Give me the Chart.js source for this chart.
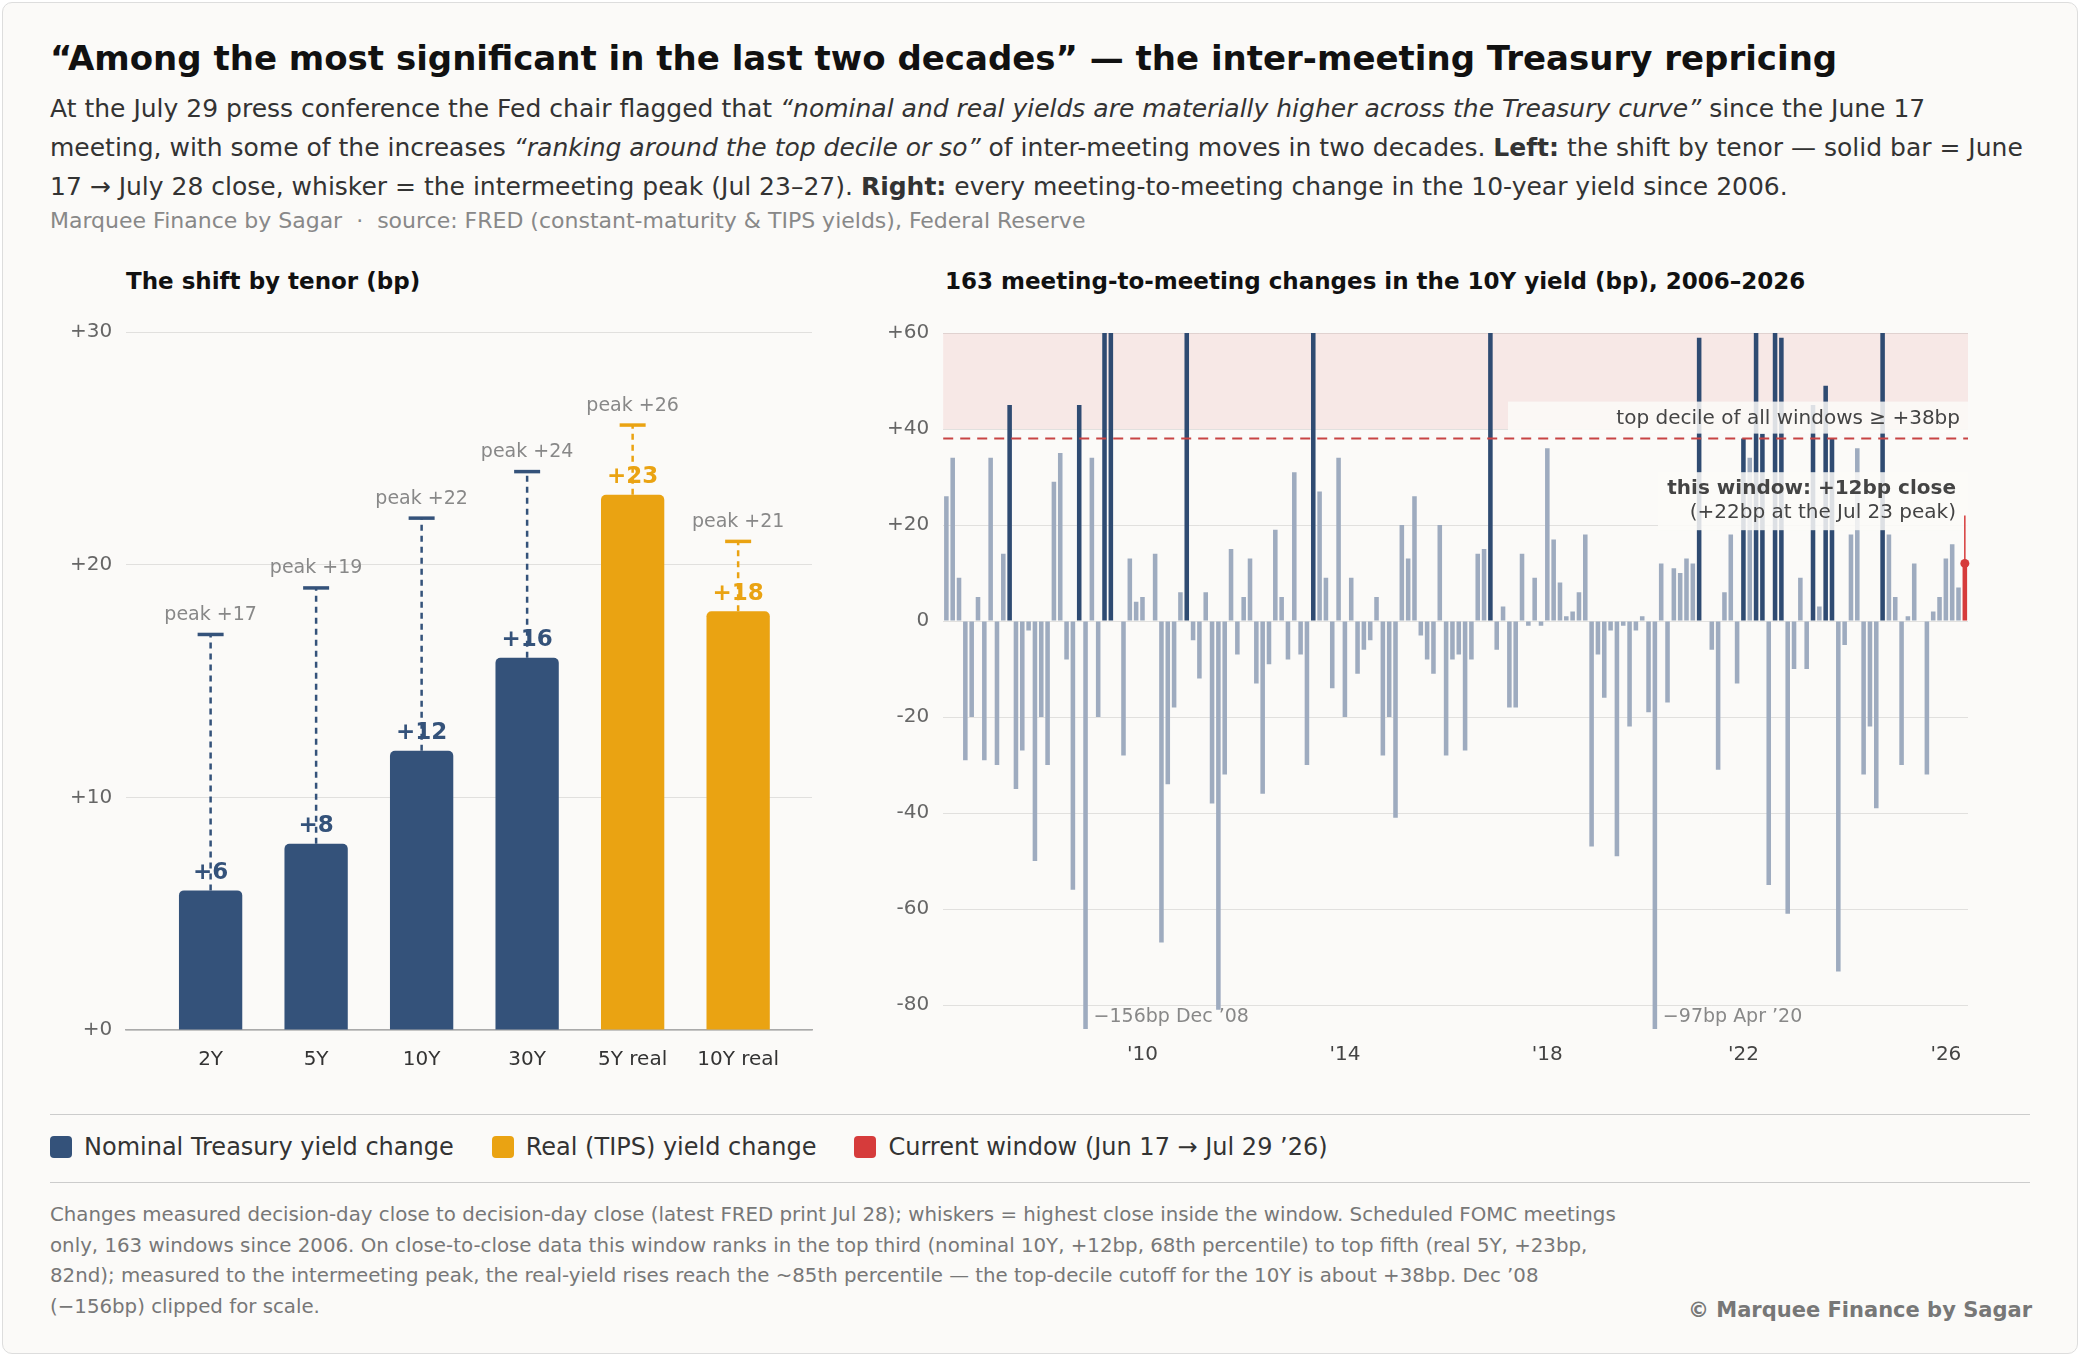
<!DOCTYPE html>
<html>
<head>
<meta charset="utf-8">
<script src="https://cdn.jsdelivr.net/npm/chart.js@4.4.1/dist/chart.umd.min.js"></script>
<style>
  html, body { margin: 0; padding: 0; background: #fff; }
  body { width: 2080px; height: 1356px; position: relative; font-family: "DejaVu Sans", sans-serif; overflow: hidden; }
  #card { position: absolute; left: 2px; top: 2px; width: 2074px; height: 1350px; background: #fbfaf8; border: 1px solid #ddd; border-radius: 10px; }
  .abs { position: absolute; }
  h1 { position: absolute; left: 50px; top: 38px; margin: 0; font-size: 34px; font-weight: bold; color: #111; }
  #sub { left: 50px; top: 89px; width: 1990px; font-size: 25px; line-height: 39px; color: #333; }
  #src { left: 50px; top: 208px; font-size: 22px; color: #888; }
  .ptitle { font-size: 23px; font-weight: bold; color: #111; }
  .rule { position: absolute; left: 50px; width: 1980px; height: 0; border-top: 1px solid #ccc; }
  #legend { left: 50px; top: 1133px; font-size: 24px; color: #333; display: flex; gap: 38px; }
  #legend span.sw { display: inline-block; width: 22px; height: 22px; border-radius: 4px; margin-right: 12px; vertical-align: -3px; }
  #foot { left: 50px; top: 1200px; width: 1575px; font-size: 19.8px; line-height: 30.5px; color: #777; }
  #copy { right: 48px; top: 1298px; font-size: 21px; font-weight: bold; color: #777; }
</style>
</head>
<body>
<div id="card"></div>
<h1>“Among the most significant in the last two decades” — the inter-meeting Treasury repricing</h1>
<div id="sub" class="abs">At the July 29 press conference the Fed chair flagged that <i>“nominal and real yields are materially higher across the Treasury curve”</i> since the June 17 meeting, with some of the increases <i>“ranking around the top decile or so”</i> of inter-meeting moves in two decades. <b>Left:</b> the shift by tenor — solid bar = June 17 → July 28 close, whisker = the intermeeting peak (Jul 23–27). <b>Right:</b> every meeting-to-meeting change in the 10-year yield since 2006.</div>
<div id="src" class="abs">Marquee Finance by Sagar &nbsp;·&nbsp; source: FRED (constant-maturity &amp; TIPS yields), Federal Reserve</div>

<div class="abs ptitle" style="left:126px;top:268px">The shift by tenor (bp)</div>
<div class="abs ptitle" style="left:945px;top:268px">163 meeting-to-meeting changes in the 10Y yield (bp), 2006–2026</div>

<div class="abs" style="left:56px;top:306px;width:774px;height:776px"><canvas id="left"></canvas></div>
<div class="abs" style="left:873px;top:307px;width:1105px;height:766px"><canvas id="right"></canvas></div>

<div class="rule" style="top:1114px"></div>
<div id="legend" class="abs">
  <div><span class="sw" style="background:#34527a"></span>Nominal Treasury yield change</div>
  <div><span class="sw" style="background:#eaa312"></span>Real (TIPS) yield change</div>
  <div><span class="sw" style="background:#d63b3b"></span>Current window (Jun 17 → Jul 29 ’26)</div>
</div>
<div class="rule" style="top:1182px"></div>
<div id="foot" class="abs">Changes measured decision-day close to decision-day close (latest FRED print Jul 28); whiskers = highest close inside the window. Scheduled FOMC meetings only, 163 windows since 2006. On close-to-close data this window ranks in the top third (nominal 10Y, +12bp, 68th percentile) to top fifth (real 5Y, +23bp, 82nd); measured to the intermeeting peak, the real-yield rises reach the ~85th percentile — the top-decile cutoff for the 10Y is about +38bp. Dec ’08 (−156bp) clipped for scale.</div>
<div id="copy" class="abs">© Marquee Finance by Sagar</div>

<script>
// ── data ──────────────────────────────────────────────
const tenors = ['2Y', '5Y', '10Y', '30Y', '5Y real', '10Y real'];
const tenorClose = [6, 8, 12, 16, 23, 18];
const tenorPeak = [17, 19, 22, 24, 26, 21];
const tenorIsReal = [false, false, false, false, true, true];
const leftTicks = [0, 10, 20, 30];

// 10Y change per scheduled FOMC window, 2006 → Jul 2026 (last = current)
const changes10y = [
  26, 34, 9, -29, -20, 5, -29, 34, -30, 14,
  45, -35, -27, -2, -50, -20, -30, 29, 35, -8,
  -56, 45, -156, 34, -20, 75, 65, 0, -28, 13,
  4, 5, 0, 14, -67, -34, -18, 6, 70, -4,
  -12, 6, -38, -81, -32, 15, -7, 5, 13, -13,
  -36, -9, 19, 5, -8, 31, -7, -30, 70, 27,
  9, -14, 34, -20, 9, -11, -6, -4, 5, -28,
  -20, -41, 20, 13, 26, -3, -8, -11, 20, -28,
  -8, -7, -27, -8, 14, 15, 62, -6, 3, -18,
  -18, 14, -1, 9, -1, 36, 17, 8, 1, 2,
  6, 18, -47, -7, -16, -2, -49, -1, -22, -2,
  1, -19, -97, 12, -17, 11, 10, 13, 12, 59,
  0, -6, -31, 6, 18, -13, 38, 34, 62, 39,
  -55, 61, 59, -61, -10, 9, -10, 45, 3, 49,
  38, -73, -5, 18, 36, -32, -22, -39, 64, 18,
  5, -30, 1, 12, 0, -32, 2, 5, 13, 16,
  7, 12
];
const currentPeak = 22;
const topDecile = 38;
const yearTicks = { 31: "'10", 63: "'14", 95: "'18", 126: "'22", 158: "'26" };
const rightTicks = [-80, -60, -40, -20, 0, 20, 40, 60];

// ── colours ───────────────────────────────────────────
const NAVY = '#34527a', GOLD = '#eaa312', RED = '#d63b3b', LIGHT = '#9eabbf', DARK = '#2f4b72';
const FONT = '"DejaVu Sans", sans-serif';
const GRID = 'rgba(0,0,0,0.1)';

Chart.defaults.font.family = FONT;
Chart.defaults.color = '#666';

const fmtSigned = v => (v > 0 ? '+' + v : v === 0 ? '0' : String(v));

// whiskers + labels for tenor chart
const tenorDecor = {
    id: 'tenorDecor',
    afterDatasetsDraw(chart) {
        const { ctx, scales: { y } } = chart;
        const meta = chart.getDatasetMeta(0);
        meta.data.forEach((bar, i) => {
            const col = tenorIsReal[i] ? GOLD : NAVY;
            const yTop = y.getPixelForValue(tenorClose[i]);
            const yPk = y.getPixelForValue(tenorPeak[i]);
            ctx.save();
            ctx.strokeStyle = col;
            ctx.lineWidth = 2.5;
            ctx.setLineDash([6, 5]);
            ctx.beginPath(); ctx.moveTo(bar.x, yTop); ctx.lineTo(bar.x, yPk); ctx.stroke();
            ctx.setLineDash([]);
            ctx.lineWidth = 3.5;
            ctx.beginPath(); ctx.moveTo(bar.x - 13, yPk); ctx.lineTo(bar.x + 13, yPk); ctx.stroke();
            ctx.textAlign = 'center';
            ctx.textBaseline = 'bottom';
            ctx.fillStyle = '#888';
            ctx.font = '19px ' + FONT;
            ctx.fillText('peak +' + tenorPeak[i], bar.x, yPk - 10);
            ctx.fillStyle = col;
            ctx.font = 'bold 23px ' + FONT;
            ctx.fillText('+' + tenorClose[i], bar.x, yTop - 6);
            ctx.restore();
        });
    }
};

new Chart(document.getElementById('left'), {
    type: 'bar',
    data: {
        datasets: [{
            data: tenorClose.map((v, i) => ({ x: i, y: v })),
            backgroundColor: tenorIsReal.map(r => r ? GOLD : NAVY),
            borderRadius: 5,
            borderSkipped: 'bottom',
            barPercentage: 0.6,
            categoryPercentage: 1
        }]
    },
    options: {
        responsive: true, maintainAspectRatio: false, animation: false, devicePixelRatio: 1,
        layout: { padding: { top: 12, right: 18, bottom: 0 } },
        scales: {
            y: {
                min: 0, max: 30,
                afterBuildTicks: ax => { ax.ticks = leftTicks.map(v => ({ value: v })); },
                ticks: { callback: v => '+' + v, font: { size: 20 }, color: '#666', padding: 14 },
                grid: { color: GRID, drawTicks: false },
                border: { display: false }
            },
            x: {
                type: 'linear', min: -0.8, max: 5.7, offset: false,
                afterBuildTicks: ax => { ax.ticks = tenors.map((_, i) => ({ value: i })); },
                ticks: { callback: v => tenors[v], font: { size: 20 }, color: '#333', padding: 10 },
                grid: { display: false },
                border: { color: '#aaa', width: 1.5 }
            }
        },
        plugins: { legend: { display: false }, tooltip: { enabled: false } }
    },
    plugins: [tenorDecor]
});

// band, threshold line, callouts for the 10Y history chart
const historyDecor = {
    id: 'historyDecor',
    beforeDatasetsDraw(chart) {
        const { ctx, chartArea: a, scales: { y } } = chart;
        ctx.save();
        ctx.fillStyle = 'rgba(214,59,59,0.09)';
        const yb = y.getPixelForValue(40);
        ctx.fillRect(a.left, a.top, a.right - a.left, yb - a.top);
        ctx.restore();
    },
    afterDatasetsDraw(chart) {
        const { ctx, chartArea: a, scales: { x, y } } = chart;
        ctx.save();
        const yd = y.getPixelForValue(topDecile);
        ctx.strokeStyle = '#c84444'; ctx.lineWidth = 2; ctx.setLineDash([10, 7]);
        ctx.beginPath(); ctx.moveTo(a.left, yd); ctx.lineTo(a.right, yd); ctx.stroke();
        ctx.setLineDash([]);
        ctx.fillStyle = 'rgba(251,250,248,0.85)';
        ctx.fillRect(a.right - 460, yd - 37, 460, 32);
        ctx.fillRect(a.right - 310, y.getPixelForValue(31), 310, 58);
        ctx.textAlign = 'right'; ctx.textBaseline = 'middle';
        ctx.fillStyle = '#444'; ctx.font = '20px ' + FONT;
        ctx.fillText('top decile of all windows ≥ +38bp', a.right - 8, yd - 20);
        ctx.font = 'bold 20px ' + FONT;
        ctx.fillText('this window: +12bp close', a.right - 12, y.getPixelForValue(27.5));
        ctx.font = '20px ' + FONT;
        ctx.fillText('(+22bp at the Jul 23 peak)', a.right - 12, y.getPixelForValue(22.5));
        ctx.textAlign = 'left'; ctx.fillStyle = '#888'; ctx.font = '19px ' + FONT;
        const yc = y.getPixelForValue(-82.5);
        ctx.fillText('−156bp Dec ’08', x.getPixelForValue(22) + 8, yc);
        ctx.fillText('−97bp Apr ’20', x.getPixelForValue(112) + 8, yc);
        const last = changes10y.length - 1;
        const cx = x.getPixelForValue(last);
        ctx.strokeStyle = RED; ctx.lineWidth = 1.5;
        ctx.beginPath();
        ctx.moveTo(cx, y.getPixelForValue(changes10y[last]));
        ctx.lineTo(cx, y.getPixelForValue(currentPeak));
        ctx.stroke();
        ctx.fillStyle = RED;
        ctx.beginPath(); ctx.arc(cx, y.getPixelForValue(changes10y[last]), 4.5, 0, Math.PI * 2); ctx.fill();
        ctx.restore();
    }
};

const lastIdx = changes10y.length - 1;
new Chart(document.getElementById('right'), {
    type: 'bar',
    data: {
        labels: changes10y.map((_, i) => yearTicks[i] || ''),
        datasets: [{
            data: changes10y,
            backgroundColor: changes10y.map((v, i) => i === lastIdx ? RED : v >= topDecile ? DARK : LIGHT),
            barPercentage: 0.72,
            categoryPercentage: 1
        }]
    },
    options: {
        responsive: true, maintainAspectRatio: false, animation: false, devicePixelRatio: 1,
        layout: { padding: { top: 12, right: 10, bottom: 0 } },
        scales: {
            y: {
                min: -85, max: 60,
                afterBuildTicks: ax => { ax.ticks = rightTicks.map(v => ({ value: v })); },
                ticks: { callback: fmtSigned, font: { size: 20 }, color: '#666', padding: 14 },
                grid: { color: GRID, drawTicks: false },
                border: { display: false }
            },
            x: {
                ticks: {
                    autoSkip: false, maxRotation: 0, font: { size: 20 }, color: '#444', padding: 6,
                    callback: (v, i) => yearTicks[i] || ''
                },
                grid: { display: false },
                border: { display: false }
            }
        },
        plugins: { legend: { display: false }, tooltip: { enabled: false } }
    },
    plugins: [historyDecor]
});
</script>
</body>
</html>
